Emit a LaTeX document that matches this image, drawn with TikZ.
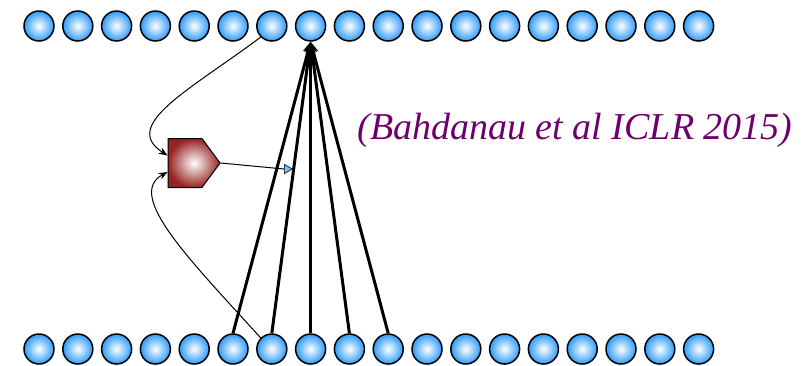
\documentclass[tikz,border=0pt]{standalone}
\usepackage{fontspec}
\setmainfont{Liberation Serif}
\usetikzlibrary{arrows.meta,shapes.geometric,shapes.symbols,calc}
\definecolor{ballblue}{RGB}{45,155,250}
\definecolor{pentred}{RGB}{150,35,35}
\definecolor{citepurple}{RGB}{110,0,110}
\definecolor{tipblue}{RGB}{120,190,245}
\tikzset{
  ball/.style={circle,draw=black,line width=1.5pt,minimum size=30pt,inner sep=0pt,
    shading=radial,inner color=white,outer color=ballblue},
  attn/.style={line width=3pt,-{Stealth[length=11pt,width=10pt]}},
  thin/.style={line width=1pt,-{Stealth[length=9pt,width=7pt]}},
}
\begin{document}
\begin{tikzpicture}[x=1pt,y=-1pt]
\useasboundingbox (0,0) rectangle (810,365);
\foreach \i in {0,...,17}{
  \node[ball] (t\i) at ({39+38.8*\i},26) {};
  \node[ball] (b\i) at ({39+38.8*\i},349) {};
}
\node[signal,signal to=east,signal pointer angle=107,draw=black,line width=1pt,
  minimum width=52pt,minimum height=49pt,inner sep=0pt,
  shading=radial,inner color=white,outer color=pentred] (p) at (185,163) {};
\node[isosceles triangle,isosceles triangle apex angle=60,draw=black,line width=0.6pt,
  fill=tipblue,minimum height=8pt,minimum width=8pt,inner sep=0pt] (tri) at (287,169) {};
\draw[line width=1pt] (p.east) -- (tri.west);
\foreach \i in {5,6,7,8,9}{
  \draw[attn] (b\i.north) -- (t7.south);
}
\coordinate (pin1) at ($(p.north west)!0.35!(p.south west)$);
\coordinate (pin2) at ($(p.north west)!0.68!(p.south west)$);
\draw[thin] (t6.225) .. controls (190,90) and (120,125) .. (pin1);
\draw[thin] (b6.135) .. controls (190,260) and (125,195) .. (pin2);
\node[text=citepurple,font=\itshape\fontsize{38}{44}\selectfont,anchor=center] (cite) at (575,130) {(Bahdanau et al ICLR 2015)};
\end{tikzpicture}
\end{document}
